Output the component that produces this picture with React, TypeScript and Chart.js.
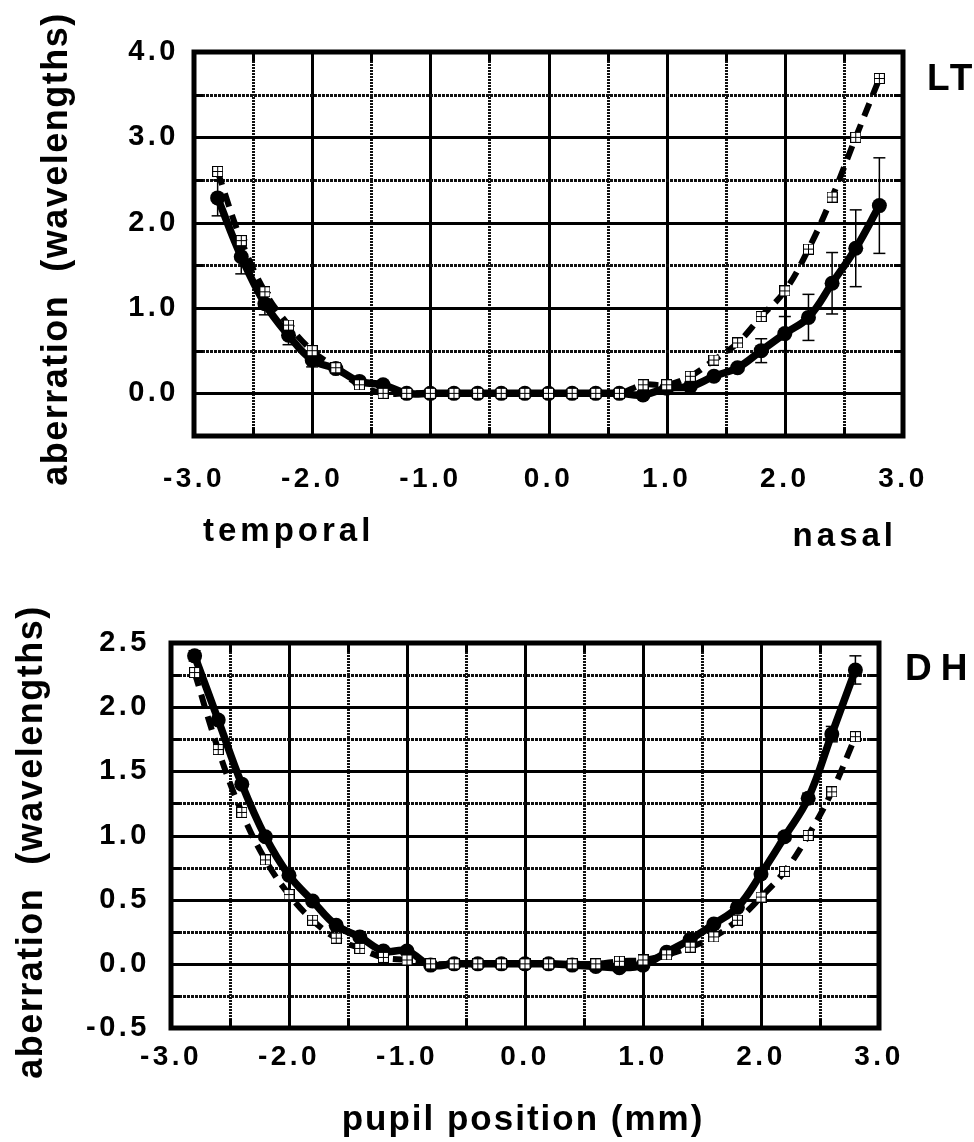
import React, { useEffect, useRef } from "react";
import { Chart, registerables } from "chart.js";

Chart.register(...registerables);

// ---------- data ----------
const pupilPositions = [
  -2.8, -2.6, -2.4, -2.2, -2.0, -1.8, -1.6, -1.4, -1.2, -1.0, -0.8, -0.6, -0.4, -0.2, 0.0,
  0.2, 0.4, 0.6, 0.8, 1.0, 1.2, 1.4, 1.6, 1.8, 2.0, 2.2, 2.4, 2.6, 2.8,
];

// LT (top panel)
const ltSolid = [
  2.29, 1.6, 1.05, 0.68, 0.39, 0.29, 0.14, 0.1, 0.0, 0.0, 0.0, 0.0, 0.0, 0.0, 0.0,
  0.0, 0.0, 0.0, -0.02, 0.06, 0.08, 0.2, 0.3, 0.5, 0.7, 0.89, 1.29, 1.7, 2.2,
];
const ltSolidErr = [
  0.21, 0.2, 0.13, 0.11, 0.08, 0.05, 0, 0, 0, 0, 0, 0, 0, 0, 0,
  0, 0, 0, 0, 0, 0, 0, 0, 0.14, 0.2, 0.27, 0.36, 0.45, 0.56,
];
const ltDashed = [
  2.6, 1.79, 1.19, 0.8, 0.5, 0.3, 0.1, 0.0, 0.0, 0.0, 0.0, 0.0, 0.0, 0.0, 0.0,
  0.0, 0.0, 0.0, 0.1, 0.1, 0.2, 0.39, 0.59, 0.9, 1.2, 1.69, 2.3, 3.0, 3.69,
];

// DH (bottom panel)
const dhSolid = [
  2.4, 1.9, 1.4, 0.99, 0.69, 0.49, 0.3, 0.21, 0.1, 0.1, -0.01, 0.0, 0.0, 0.0, 0.0,
  0.0, -0.01, -0.02, -0.03, -0.01, 0.09, 0.19, 0.31, 0.44, 0.7, 0.99, 1.29, 1.79, 2.29,
];
const dhSolidErr = [
  0.04, 0.03, 0.02, 0, 0, 0, 0, 0, 0, 0, 0, 0, 0, 0, 0,
  0, 0, 0, 0, 0, 0, 0, 0, 0, 0, 0.03, 0.04, 0.06, 0.11,
];
const dhDashed = [
  2.27, 1.67, 1.18, 0.81, 0.54, 0.34, 0.2, 0.12, 0.05, 0.03, 0.0, 0.0, 0.0, 0.0, 0.0,
  0.0, 0.0, 0.0, 0.02, 0.03, 0.07, 0.13, 0.21, 0.34, 0.52, 0.72, 1.0, 1.34, 1.77,
];

// tick labels
const xTickValues = [-3, -2, -1, 0, 1, 2, 3];
const ltYTickValues = [0, 1, 2, 3, 4];
const dhYTickValues = [-0.5, 0.0, 0.5, 1.0, 1.5, 2.0, 2.5];

// texts
const yTitle = "aberration  (wavelengths)";
const xTitleBottom = "pupil position (mm)";
const temporalLabel = "temporal";
const nasalLabel = "nasal";
const ltLabel = "LT";
const dhLabel = "DH";

// ---------- helpers ----------
const FONT = "'Liberation Sans', Arial, Helvetica, sans-serif";

function makeSquareMarker(): HTMLCanvasElement {
  const c = document.createElement("canvas");
  c.width = 11;
  c.height = 11;
  const g = c.getContext("2d")!;
  g.fillStyle = "#fff";
  g.fillRect(0, 0, 11, 11);
  g.strokeStyle = "#000";
  g.lineWidth = 1;
  g.strokeRect(0.5, 0.5, 10, 10);
  g.beginPath();
  g.moveTo(5.5, 0);
  g.lineTo(5.5, 11);
  g.moveTo(0, 5.5);
  g.lineTo(11, 5.5);
  g.stroke();
  return c;
}

const isMultiple = (v: number, step: number) =>
  Math.abs(v / step - Math.round(v / step)) < 1e-6;

const framePlugin = {
  id: "frame",
  beforeDraw(chart: any) {
    chart.ctx.letterSpacing = "3.5px";
  },
  beforeDatasetsDraw(chart: any, _args: any, opts: any) {
    const { ctx, chartArea: a, scales } = chart;
    const xs = scales.x;
    const ys = scales.y;
    ctx.save();
    ctx.lineCap = "butt";
    const line = (x1: number, y1: number, x2: number, y2: number) => {
      ctx.beginPath();
      ctx.moveTo(x1, y1);
      ctx.lineTo(x2, y2);
      ctx.stroke();
    };
    const tick = 9;
    // vertical grid lines
    for (let v = xs.min + opts.xMinor; v < xs.max - 1e-9; v += opts.xMinor) {
      const px = Math.round(xs.getPixelForValue(v)) + 0.5;
      ctx.strokeStyle = "#000";
      ctx.lineWidth = 3;
      if (isMultiple(v, opts.xMajor)) {
        ctx.setLineDash([]);
        line(px, a.top, px, a.bottom);
      } else {
        ctx.setLineDash([2, 1]);
        ctx.strokeStyle = "#111";
        line(px, a.top, px, a.bottom);
        ctx.setLineDash([]);
        ctx.strokeStyle = "#000";
        line(px, a.top, px, a.top + tick);
        line(px, a.bottom, px, a.bottom - tick);
      }
    }
    // horizontal grid lines
    for (let v = ys.min + opts.yMinor; v < ys.max - 1e-9; v += opts.yMinor) {
      const py = Math.round(ys.getPixelForValue(v)) + 0.5;
      ctx.strokeStyle = "#000";
      ctx.lineWidth = 3;
      if (isMultiple(v, opts.yMajor)) {
        ctx.setLineDash([]);
        line(a.left, py, a.right, py);
      } else {
        ctx.setLineDash([3, 1]);
        ctx.strokeStyle = "#111";
        line(a.left, py, a.right, py);
        ctx.setLineDash([]);
        ctx.strokeStyle = "#000";
        line(a.left, py, a.left + tick, py);
        line(a.right, py, a.right - tick, py);
      }
    }
    // frame
    ctx.setLineDash([]);
    ctx.strokeStyle = "#000";
    ctx.lineWidth = 5;
    ctx.strokeRect(a.left, a.top, a.right - a.left, a.bottom - a.top);

    // error bars
    const ds = chart.data.datasets[opts.errDataset];
    const errs: number[] = opts.errors;
    ctx.lineWidth = 1.5;
    ctx.strokeStyle = "#000";
    ds.data.forEach((d: any, i: number) => {
      const e = errs[i];
      if (!e) return;
      const px = xs.getPixelForValue(d.x);
      const y1 = ys.getPixelForValue(d.y + e);
      const y2 = ys.getPixelForValue(d.y - e);
      line(px, y1, px, y2);
      line(px - 6, y1, px + 6, y1);
      line(px - 6, y2, px + 6, y2);
    });
    ctx.restore();
  },
  afterDraw(chart: any, _args: any, opts: any) {
    const ctx = chart.ctx;
    (opts.texts || []).forEach((t: any) => {
      ctx.save();
      ctx.letterSpacing = `${t.spacing}px`;
      ctx.font = `bold ${t.size}px ${FONT}`;
      ctx.fillStyle = "#000";
      ctx.textAlign = t.align;
      ctx.textBaseline = "alphabetic";
      ctx.translate(t.x, t.y);
      if (t.rotate) ctx.rotate(-Math.PI / 2);
      ctx.fillText(t.text, 0, 0);
      ctx.restore();
    });
  },
};

function buildConfig(opts: {
  solid: number[];
  dashed: number[];
  errors: number[];
  yMin: number;
  yMax: number;
  yTicks: number[];
  yMinor: number;
  yMajor: number;
  padding: any;
  yWidth: number;
  xHeight: number;
  xTickPad: number;
  yTickPad: number;
  texts: any[];
}) {
  const square = makeSquareMarker();
  const dashedData = pupilPositions.map((p, i) => ({ x: p, y: opts.dashed[i] }));
  const solidData = pupilPositions.map((p, i) => ({ x: p, y: opts.solid[i] }));
  const tickFont = { family: FONT, weight: "bold" as const, size: 28 };
  return {
    type: "line" as const,
    data: {
      datasets: [
        {
          data: dashedData,
          borderColor: "#000",
          borderWidth: 6,
          borderDash: [14, 9],
          pointStyle: square,
          pointRadius: 5.5,
          tension: 0.4,
          fill: false,
        },
        {
          data: solidData,
          borderColor: "#000",
          borderWidth: 7.5,
          pointStyle: "circle",
          pointRadius: 7.5,
          pointBackgroundColor: "#000",
          pointBorderColor: "#000",
          pointBorderWidth: 0,
          tension: 0.4,
          fill: false,
        },
      ],
    },
    options: {
      animation: false,
      responsive: false,
      maintainAspectRatio: false,
      events: [],
      layout: { padding: opts.padding },
      plugins: {
        legend: { display: false },
        tooltip: { enabled: false },
        frame: {
          xMinor: 0.5,
          xMajor: 1,
          yMinor: opts.yMinor,
          yMajor: opts.yMajor,
          errDataset: 1,
          errors: opts.errors,
          texts: opts.texts,
        },
      },
      scales: {
        x: {
          type: "linear",
          min: -3,
          max: 3,
          grid: { display: false, drawTicks: false },
          border: { display: false },
          afterFit: (s: any) => {
            s.height = opts.xHeight;
          },
          afterBuildTicks: (s: any) => {
            s.ticks = xTickValues.map((v) => ({ value: v }));
          },
          ticks: {
            autoSkip: false,
            maxRotation: 0,
            minRotation: 0,
            padding: opts.xTickPad,
            color: "#000",
            font: tickFont,
            callback: (v: any) => Number(v).toFixed(1),
          },
        },
        y: {
          type: "linear",
          min: opts.yMin,
          max: opts.yMax,
          grid: { display: false, drawTicks: false },
          border: { display: false },
          afterFit: (s: any) => {
            s.width = opts.yWidth;
          },
          afterBuildTicks: (s: any) => {
            s.ticks = opts.yTicks.map((v) => ({ value: v }));
          },
          ticks: {
            autoSkip: false,
            padding: opts.yTickPad,
            color: "#000",
            font: { ...tickFont, size: 29 },
            callback: (v: any) => Number(v).toFixed(1),
          },
        },
      },
    },
    plugins: [framePlugin],
  };
}

function ChartCanvas({ top, height, make }: { top: number; height: number; make: () => any }) {
  const ref = useRef<HTMLCanvasElement>(null);
  useEffect(() => {
    const chart = new Chart(ref.current!, make());
    return () => chart.destroy();
  }, []);
  return (
    <canvas
      ref={ref}
      width={974}
      height={height}
      style={{ position: "absolute", left: 0, top, width: 974, height, display: "block" }}
    />
  );
}

export default function App() {
  const topConfig = () =>
    buildConfig({
      solid: ltSolid,
      dashed: ltDashed,
      errors: ltSolidErr,
      yMin: -0.5,
      yMax: 4.0,
      yTicks: ltYTickValues,
      yMinor: 0.5,
      yMajor: 1,
      padding: { left: 0, top: 52, right: 71, bottom: 0 },
      yWidth: 194,
      xHeight: 575 - 436,
      xTickPad: 26,
      yTickPad: 15,
      texts: [
        { text: yTitle, x: 67, y: 249, size: 36, spacing: 1.5, align: "center", rotate: true },
        { text: temporalLabel, x: 203, y: 541, size: 33, spacing: 4, align: "left" },
        { text: nasalLabel, x: 897, y: 546, size: 33, spacing: 4, align: "right" },
        { text: ltLabel, x: 927, y: 90, size: 37, spacing: 3, align: "left" },
      ],
    });
  const bottomConfig = () =>
    buildConfig({
      solid: dhSolid,
      dashed: dhDashed,
      errors: dhSolidErr,
      yMin: -0.5,
      yMax: 2.5,
      yTicks: dhYTickValues,
      yMinor: 0.25,
      yMajor: 0.5,
      padding: { left: 0, top: 68, right: 95, bottom: 0 },
      yWidth: 171,
      xHeight: 567 - 453,
      xTickPad: 12,
      yTickPad: 21,
      texts: [
        { text: yTitle, x: 42, y: 267, size: 36, spacing: 1.5, align: "center", rotate: true },
        { text: xTitleBottom, x: 523, y: 555, size: 35, spacing: 2, align: "center" },
        { text: dhLabel, x: 905, y: 105, size: 37, spacing: 9, align: "left" },
      ],
    });
  return (
    <div style={{ position: "absolute", left: 0, top: 0, width: 974, height: 1142, background: "#fff" }}>
      <ChartCanvas top={0} height={575} make={topConfig} />
      <ChartCanvas top={575} height={567} make={bottomConfig} />
    </div>
  );
}
